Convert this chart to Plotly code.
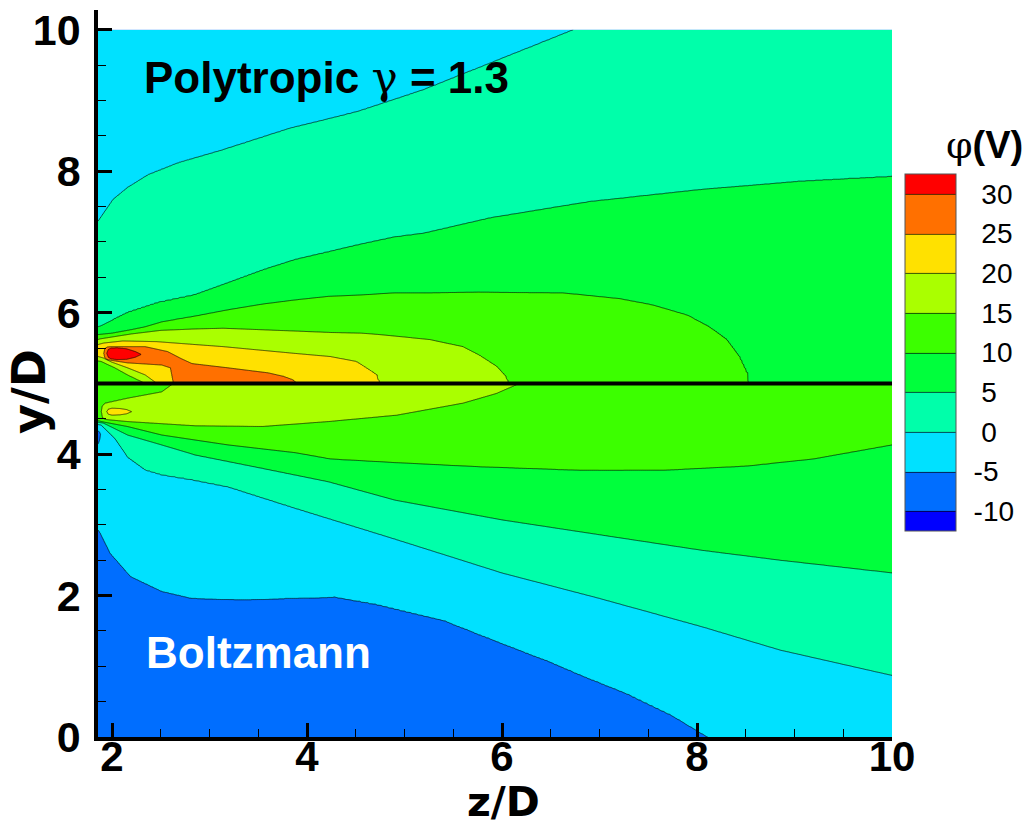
import numpy as np
import plotly.graph_objects as go

FONT = "Liberation Sans, Arial, Helvetica, sans-serif"
TITLE_FONT = "DejaVu Sans, Liberation Sans, sans-serif"

# potential contour levels (V) and the fill colour of every band, lowest band first
LEVELS = [-10, -5, 0, 5, 10, 15, 20, 25, 30]
BAND_COLORS = ["#0000ff", "#006eff", "#00e1ff", "#00ffaa", "#00ff3c",
               "#3cff00", "#aaff00", "#ffe100", "#ff7000", "#ff0000"]

Z_MIN, Z_MAX = 1.856, 10.0
Y_AXIS, Y_TOP, Y_BOTTOM = 5.0, 10.0, 0.0

# ---------------- upper half: polytropic electrons (y/D from 5 to 10) ----------------
# potential on the symmetry line y/D = 5 and on the top edge y/D = 10
up_axis_z = [1.856, 2.34, 2.46, 2.63, 2.90, 3.30, 3.60, 3.90, 4.75, 6.07, 8.53, 10.0]
up_axis_phi = [12.0, 15.0, 20.0, 25.0, 28.0, 27.5, 26.5, 25.0, 20.0, 15.0, 10.0, 7.5]
up_top_z = [1.856, 6.73, 10.0]
up_top_phi = [-3.5, 0.0, 2.0]

# crest of the plume (location and peak potential)
up_ridge_z = [1.856, 1.915, 1.945, 2.00, 2.15, 2.25, 2.30, 2.45, 2.55, 2.63, 2.80, 3.00, 3.20, 3.30, 3.60]
up_ridge_y = [5.425, 5.425, 5.425, 5.425, 5.42, 5.415, 5.41, 5.40, 5.38, 5.30, 5.15, 5.12, 5.08, 5.06, 5.02]
up_ridge_phi = [21.0, 25.0, 30.0, 32.5, 32.5, 31.0, 30.0, 28.5, 28.0, 28.0, 28.0, 28.0, 27.5, 27.0, 26.0]

# iso-potential lines y(z)
up_c0_z = [1.856, 1.88, 2.01, 2.16, 2.37, 2.68, 3.13, 3.83, 4.51, 5.19, 5.88, 6.73]
up_c0_y = [7.29, 7.34, 7.60, 7.77, 7.95, 8.12, 8.30, 8.61, 8.84, 9.15, 9.53, 10.0]

up_c5_z = [1.856, 1.88, 2.16, 2.47, 2.85, 3.19, 3.54, 3.88, 4.22, 4.56, 4.90, 5.19, 5.88, 6.90, 8.03, 9.06, 10.0]
up_c5_y = [5.80, 5.81, 6.00, 6.14, 6.25, 6.42, 6.60, 6.75, 6.86, 6.97, 7.07, 7.12, 7.34, 7.57, 7.74, 7.86, 7.93]

up_c10_z = [1.856, 2.00, 2.20, 2.34, 2.51, 2.85, 3.19, 3.54, 3.88, 4.22, 4.56, 4.90, 5.26, 5.77, 6.63,
            7.21, 7.55, 7.90, 8.13, 8.31, 8.44, 8.52, 8.53]
up_c10_y = [5.69, 5.71, 5.76, 5.80, 5.87, 5.95, 6.04, 6.12, 6.18, 6.23, 6.25, 6.28, 6.28, 6.29, 6.28,
            6.20, 6.11, 5.97, 5.80, 5.62, 5.38, 5.15, 5.0]

up_c15_top_z = [1.856, 1.88, 2.20, 2.50, 2.85, 3.14, 3.88, 4.24, 4.56, 4.75, 5.26, 5.60, 5.77, 5.95, 6.05, 6.07]
up_c15_top_y = [5.62, 5.63, 5.70, 5.75, 5.77, 5.78, 5.74, 5.72, 5.71, 5.69, 5.62, 5.52, 5.40, 5.24, 5.09, 5.0]
up_c15_bot_z = [1.856, 1.89, 2.03, 2.16, 2.34]
up_c15_bot_y = [5.32, 5.31, 5.22, 5.12, 5.0]

up_c20_top_z = [1.856, 1.91, 2.11, 2.46, 3.14, 3.83, 4.24, 4.51, 4.68, 4.72, 4.75]
up_c20_top_y = [5.55, 5.57, 5.60, 5.59, 5.52, 5.43, 5.38, 5.31, 5.16, 5.12, 5.0]
up_c20_bot_z = [1.856, 1.91, 2.00, 2.16, 2.34, 2.46]
up_c20_bot_y = [5.38, 5.36, 5.30, 5.22, 5.12, 5.0]

up_c25_top_z = [1.915, 1.925, 1.95, 2.00, 2.34, 2.57, 2.71, 2.82, 3.19, 3.60, 3.76, 3.86, 3.90]
up_c25_top_y = [5.425, 5.49, 5.515, 5.52, 5.52, 5.45, 5.35, 5.28, 5.22, 5.15, 5.10, 5.05, 5.0]
up_c25_bot_z = [1.915, 1.925, 1.95, 2.16, 2.51, 2.60, 2.63]
up_c25_bot_y = [5.425, 5.36, 5.335, 5.29, 5.26, 5.22, 5.0]

up_c30_z = [1.945, 1.96, 1.99, 2.05, 2.15, 2.24, 2.30]
up_c30_top_y = [5.425, 5.48, 5.50, 5.505, 5.49, 5.45, 5.41]
up_c30_bot_y = [5.425, 5.37, 5.345, 5.335, 5.34, 5.37, 5.41]

# ---------------- lower half: Boltzmann electrons (y/D from 0 to 5) ----------------
lo_axis_z = [1.856, 2.63, 4.00, 6.18, 10.0]
lo_axis_phi = [13.0, 15.0, 17.5, 15.0, 12.5]
lo_floor_z = [1.856, 8.11, 10.0]
lo_floor_phi = [-8.5, -5.0, -3.5]

lo_ridge_z = [1.856, 1.89, 1.945, 2.02, 2.12, 2.20, 2.40, 2.63, 3.20, 4.00]
lo_ridge_y = [4.60, 4.60, 4.60, 4.60, 4.60, 4.60, 4.62, 4.65, 4.70, 4.75]
lo_ridge_phi = [13.0, 15.0, 20.0, 21.5, 21.2, 20.0, 18.0, 17.5, 17.5, 17.0]

lo_c20_z = [1.945, 1.96, 2.00, 2.08, 2.15, 2.20]
lo_c20_top_y = [4.60, 4.635, 4.65, 4.645, 4.63, 4.60]
lo_c20_bot_y = [4.60, 4.565, 4.55, 4.555, 4.57, 4.60]

lo_c15_top_z = [1.89, 1.90, 1.93, 2.16, 2.51, 2.63]
lo_c15_top_y = [4.60, 4.68, 4.72, 4.79, 4.88, 5.0]
lo_c15_bot_z = [1.89, 1.90, 1.93, 2.16, 2.85, 3.54, 4.22, 4.92, 5.60, 5.95, 6.18]
lo_c15_bot_y = [4.60, 4.52, 4.49, 4.46, 4.40, 4.39, 4.46, 4.55, 4.72, 4.86, 5.0]

lo_c10_z = [1.856, 1.89, 2.16, 2.51, 3.19, 3.88, 4.24, 4.90, 5.77, 6.80, 7.65, 8.51, 9.19, 10.0]
lo_c10_y = [4.47, 4.46, 4.39, 4.27, 4.13, 4.02, 3.93, 3.88, 3.82, 3.77, 3.77, 3.83, 3.93, 4.13]

lo_c5_z = [1.856, 1.91, 2.16, 2.51, 2.85, 3.54, 4.22, 4.90, 6.00, 7.00, 8.05, 8.85, 10.0]
lo_c5_y = [4.45, 4.44, 4.27, 4.13, 3.99, 3.80, 3.61, 3.35, 3.07, 2.86, 2.64, 2.50, 2.32]

lo_c0_z = [1.856, 1.89, 2.03, 2.16, 2.34, 2.51, 2.82, 3.19, 3.87, 4.90, 6.00, 7.00, 8.05, 8.85, 10.0]
lo_c0_y = [4.42, 4.41, 4.22, 3.96, 3.78, 3.71, 3.64, 3.54, 3.24, 2.80, 2.32, 1.96, 1.56, 1.23, 0.87]

lo_cm5_z = [1.856, 1.88, 1.98, 2.19, 2.51, 2.82, 3.34, 3.80, 4.29, 4.70, 5.40, 6.10, 6.48, 6.80,
            7.27, 7.42, 7.75, 8.05, 8.11]
lo_cm5_y = [2.93, 2.88, 2.60, 2.27, 2.06, 1.96, 1.94, 1.96, 1.98, 1.88, 1.65, 1.27, 1.07, 0.88,
            0.62, 0.52, 0.30, 0.05, 0.0]

# small potential well right at the source exit
lo_well_z = [1.856, 1.875, 1.895]
lo_well_y = [4.28, 4.28, 4.28]
lo_well_phi = [-8.0, -6.0, -3.0]
lo_well_edge_y = [4.05, 4.05, 4.05]
lo_well_edge_phi = [-3.0, -2.5, -2.0]


def build_half(z_grid, y_grid, axis_z, axis_phi, edge_y, edge_z, edge_phi, lines):
    """Potential on a (y, z) grid, interpolated between the iso-lines of each column."""
    field = np.empty((len(y_grid), len(z_grid)))
    for j, z in enumerate(z_grid):
        ys = [Y_AXIS, edge_y]
        vs = [np.interp(z, axis_z, axis_phi), np.interp(z, edge_z, edge_phi)]
        for lz, ly, lv in lines:
            if lz[0] - 1e-9 <= z <= lz[-1] + 1e-9:
                ys.append(np.interp(z, lz, ly))
                vs.append(np.interp(z, lz, lv) if np.ndim(lv) else lv)
        order = np.argsort(ys, kind="stable")
        field[:, j] = np.interp(y_grid, np.asarray(ys)[order], np.asarray(vs)[order])
    return np.round(field, 2)


z_grid = np.concatenate([np.arange(Z_MIN, 2.8, 0.004), np.arange(2.8, Z_MAX + 1e-6, 0.02)])
y_up = np.concatenate([np.arange(Y_AXIS, 5.9, 0.004), np.arange(5.9, Y_TOP + 1e-6, 0.02)])
y_lo = np.concatenate([np.arange(Y_BOTTOM, 4.0, 0.02), np.arange(4.0, Y_AXIS + 1e-6, 0.004)])

upper_lines = [
    (up_c0_z, up_c0_y, 0), (up_c5_z, up_c5_y, 5), (up_c10_z, up_c10_y, 10),
    (up_c15_top_z, up_c15_top_y, 15), (up_c15_bot_z, up_c15_bot_y, 15),
    (up_c20_top_z, up_c20_top_y, 20), (up_c20_bot_z, up_c20_bot_y, 20),
    (up_c25_top_z, up_c25_top_y, 25), (up_c25_bot_z, up_c25_bot_y, 25),
    (up_c30_z, up_c30_top_y, 30), (up_c30_z, up_c30_bot_y, 30),
    (up_ridge_z, up_ridge_y, up_ridge_phi),
]
lower_lines = [
    (lo_c20_z, lo_c20_top_y, 20), (lo_c20_z, lo_c20_bot_y, 20),
    (lo_c15_top_z, lo_c15_top_y, 15), (lo_c15_bot_z, lo_c15_bot_y, 15),
    (lo_c10_z, lo_c10_y, 10), (lo_c5_z, lo_c5_y, 5), (lo_c0_z, lo_c0_y, 0),
    (lo_cm5_z, lo_cm5_y, -5),
    (lo_ridge_z, lo_ridge_y, lo_ridge_phi),
    (lo_well_z, lo_well_y, lo_well_phi), (lo_well_z, lo_well_edge_y, lo_well_edge_phi),
]

phi_up = build_half(z_grid, y_up, up_axis_z, up_axis_phi, Y_TOP, up_top_z, up_top_phi, upper_lines)
phi_lo = build_half(z_grid, y_lo, lo_axis_z, lo_axis_phi, Y_BOTTOM, lo_floor_z, lo_floor_phi, lower_lines)

# stepped colour scale: one flat colour per contour band
n_band = len(BAND_COLORS)
colorscale = []
for k, c in enumerate(BAND_COLORS):
    colorscale.append([max(0.0, (k - 0.5) / (n_band - 1)), c])
    colorscale.append([min(1.0, (k + 0.5) / (n_band - 1)), c])

step = LEVELS[1] - LEVELS[0]
contour_style = dict(
    colorscale=colorscale,
    zauto=False, zmin=LEVELS[0] - step / 2, zmax=LEVELS[-1] + step / 2,
    autocontour=False,
    contours=dict(start=LEVELS[0], end=LEVELS[-1], size=step, coloring="fill", showlines=True),
    line=dict(color="rgba(0,0,0,0.85)", width=0.8, smoothing=0),
    hoverinfo="skip",
)

# plot area in pixels
L, R, T, B = 98, 138, 10, 91
W, H = 1030, 828
pw, ph = W - L - R, H - T - B


def px_x(px):
    return (px - L) / pw


def px_y(py):
    return (H - B - py) / ph


tick_text = [("\u2008" + str(v)) if v >= 0 else str(v) for v in LEVELS]

fig = go.Figure()
fig.add_trace(go.Contour(
    x=z_grid, y=y_up, z=phi_up, showscale=True,
    colorbar=dict(
        x=px_x(905), xanchor="left", xpad=0,
        y=px_y(352.5), yanchor="middle", ypad=0,
        len=357, lenmode="pixels", thickness=51, thicknessmode="pixels",
        outlinewidth=1, outlinecolor="#555555",
        tickmode="array", tickvals=LEVELS, ticktext=tick_text,
        ticks="outside", ticklen=12, tickcolor="rgba(0,0,0,0)",
        tickfont=dict(family=FONT, size=28, color="black"),
    ),
    **contour_style,
))
fig.add_trace(go.Contour(x=z_grid, y=y_lo, z=phi_lo, showscale=False, **contour_style))

# symmetry line separating the two electron models
fig.add_shape(type="line", xref="x", yref="y", x0=Z_MIN, x1=Z_MAX, y0=Y_AXIS, y1=Y_AXIS,
              line=dict(color="black", width=4))

fig.add_annotation(x=2.305, y=9.32, xref="x", yref="y", xanchor="left", yanchor="middle",
                   showarrow=False,
                   text="Polytropic <span style='font-family:DejaVu Serif;font-weight:normal'>\u03b3</span> = 1.3",
                   font=dict(family=FONT, size=44, color="black", weight="bold"))
fig.add_annotation(x=2.324, y=1.20, xref="x", yref="y", xanchor="left", yanchor="middle",
                   showarrow=False, text="Boltzmann",
                   font=dict(family=FONT, size=44, color="white", weight="bold"))
# colour-bar heading
fig.add_annotation(x=px_x(984), y=px_y(145), xref="paper", yref="paper",
                   xanchor="center", yanchor="middle", showarrow=False,
                   text="<span style='font-family:DejaVu Serif;font-weight:normal'>\u03c6</span>(V)",
                   font=dict(family=FONT, size=38, color="black", weight="bold"))
# axis titles
fig.add_annotation(x=px_x(503), y=px_y(828), xref="paper", yref="paper",
                   xanchor="center", yanchor="bottom", showarrow=False, text="z/D",
                   font=dict(family=TITLE_FONT, size=41, color="black", weight="bold"))
fig.add_annotation(x=px_x(0), y=px_y(392), xref="paper", yref="paper",
                   xanchor="left", yanchor="middle", showarrow=False, text="y/D",
                   textangle=-90,
                   font=dict(family=TITLE_FONT, size=46, color="black", weight="bold"))

axis_common = dict(
    ticks="inside", ticklen=14, tickwidth=3, tickcolor="black",
    showline=True, linewidth=3.5, linecolor="black", mirror=False,
    showgrid=False, zeroline=False, automargin=False,
    minor=dict(ticks="inside", ticklen=8, tickwidth=1.2, tickcolor="black",
               dtick=0.5, tick0=0, showgrid=False),
)

fig.update_layout(
    template="none",
    width=W, height=H,
    margin=dict(l=L, r=R, t=T, b=B, autoexpand=False),
    paper_bgcolor="white", plot_bgcolor="white",
    showlegend=False,
    xaxis=dict(range=[Z_MIN, Z_MAX], tick0=0, dtick=2, ticklabelstandoff=-20,
               tickfont=dict(family=FONT, size=42, color="black", weight="bold"),
               **axis_common),
    yaxis=dict(range=[0, 10.28], tick0=0, dtick=2, ticklabelstandoff=5,
               tickfont=dict(family=FONT, size=43, color="black", weight="bold"),
               **axis_common),
)

fig.write_html("out.html")
